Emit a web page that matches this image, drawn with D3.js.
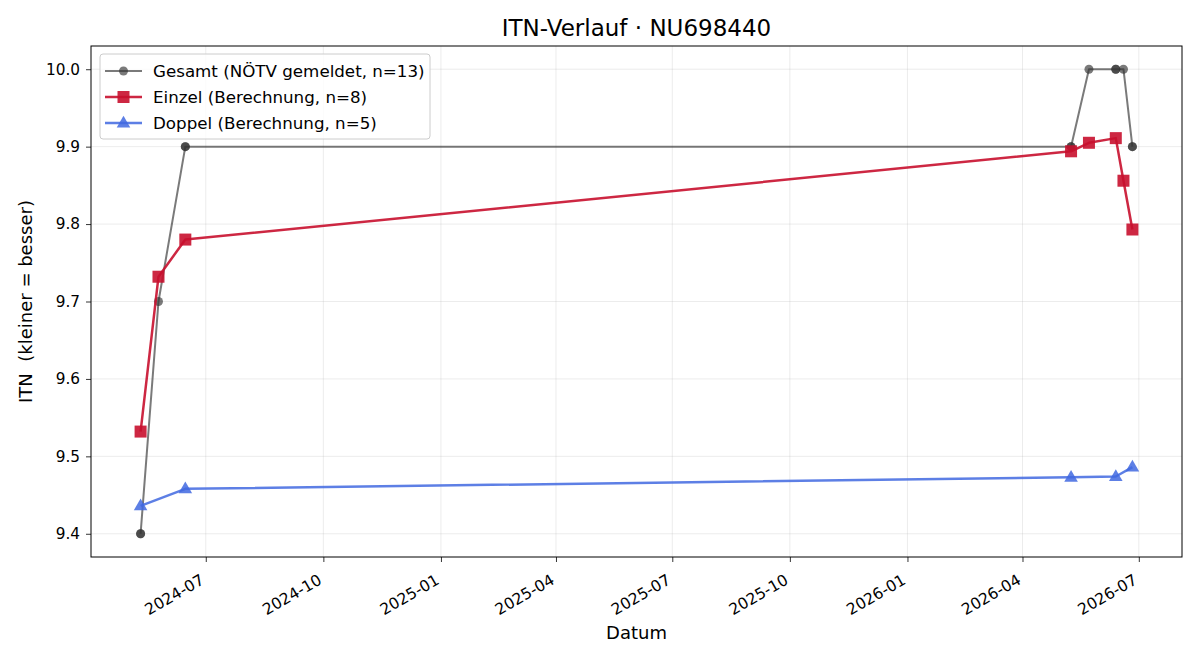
<!DOCTYPE html>
<html>
<head>
<meta charset="utf-8">
<script src="https://cdn.jsdelivr.net/npm/d3@7"></script>
<style>
  body { margin: 0; background: #fff; }
  svg text { font-family: "DejaVu Sans", sans-serif; fill: #000; }
</style>
</head>
<body>
<svg width="1200" height="660"></svg>
<script>
// data
var gesamtDates = ["2024-05-11","2024-05-11","2024-05-25","2024-06-15","2024-06-15","2026-05-09","2026-05-09","2026-05-23","2026-06-13","2026-06-13","2026-06-19","2026-06-26","2026-06-26"];
var gesamtValues = [9.4, 9.4, 9.7, 9.9, 9.9, 9.9, 9.9, 10.0, 10.0, 10.0, 10.0, 9.9, 9.9];

var einzelDates = ["2024-05-11","2024-05-25","2024-06-15","2026-05-09","2026-05-23","2026-06-13","2026-06-19","2026-06-26"];
var einzelValues = [9.532, 9.732, 9.780, 9.894, 9.905, 9.911, 9.856, 9.793];

var doppelDates = ["2024-05-11","2024-06-15","2026-05-09","2026-06-13","2026-06-26"];
var doppelValues = [9.436, 9.458, 9.473, 9.474, 9.486];

var yTicks = [9.4, 9.5, 9.6, 9.7, 9.8, 9.9, 10.0];
var xTicks = ["2024-07-01","2024-10-01","2025-01-01","2025-04-01","2025-07-01","2025-10-01","2026-01-01","2026-04-01","2026-07-01"];

var parse = d3.utcParse("%Y-%m-%d");

var svg = d3.select("svg"),
    width = +svg.attr("width"),
    height = +svg.attr("height");

var margin = {left: 91, right: 18, top: 46, bottom: 103};
var pw = width - margin.left - margin.right,
    ph = height - margin.top - margin.bottom;

function zip(dates, vals) {
  return dates.map(function(d, i) { return {date: parse(d), value: vals[i]}; });
}

var series = [
  {name: "Gesamt (NÖTV gemeldet, n=13)", data: zip(gesamtDates, gesamtValues), color: "#333333", alpha: 0.65, width: 2, marker: "circle"},
  {name: "Einzel (Berechnung, n=8)", data: zip(einzelDates, einzelValues), color: "#c8102e", alpha: 0.9, width: 2.5, marker: "square"},
  {name: "Doppel (Berechnung, n=5)", data: zip(doppelDates, doppelValues), color: "#4169e1", alpha: 0.85, width: 2.5, marker: "triangle"}
];

// matplotlib-ish 5% margins
var allDates = [].concat(series[0].data, series[1].data, series[2].data).map(function(d) { return +d.date; });
var allVals = [].concat(gesamtValues, einzelValues, doppelValues);
var dMin = d3.min(allDates), dMax = d3.max(allDates), dPad = (dMax - dMin) * 0.05;
var vMin = d3.min(allVals), vMax = d3.max(allVals), vPad = (vMax - vMin) * 0.05;

var x = d3.scaleUtc()
    .domain([new Date(dMin - dPad), new Date(dMax + dPad)])
    .range([0, pw]);
var y = d3.scaleLinear()
    .domain([vMin - vPad, vMax + vPad])
    .range([ph, 0]);

const g = svg.append("g").attr("transform", "translate(" + margin.left + "," + margin.top + ")");

// grid
g.append("g").selectAll("line")
  .data(xTicks.map(parse))
  .enter().append("line")
    .attr("x1", d => x(d)).attr("x2", d => x(d))
    .attr("y1", 0).attr("y2", ph)
    .attr("stroke", "#b0b0b0").attr("stroke-opacity", 0.3).attr("stroke-width", 0.8);
g.append("g").selectAll("line")
  .data(yTicks)
  .enter().append("line")
    .attr("x1", 0).attr("x2", pw)
    .attr("y1", d => y(d)).attr("y2", d => y(d))
    .attr("stroke", "#b0b0b0").attr("stroke-opacity", 0.3).attr("stroke-width", 0.8);

// axes
var xAxis = g.append("g")
  .attr("transform", "translate(0," + ph + ")")
  .call(d3.axisBottom(x).tickValues(xTicks.map(parse)).tickFormat(d3.utcFormat("%Y-%m")).tickSizeOuter(0).tickSize(5));
xAxis.selectAll("text")
  .style("font-size", "15.6px")
  .attr("text-anchor", "end")
  .attr("x", 0).attr("y", 0)
  .attr("dx", 0).attr("dy", 0)
  .attr("transform", "translate(-1,26) rotate(-30)");

var yAxis = g.append("g")
  .call(d3.axisLeft(y).tickValues(yTicks).tickFormat(d3.format(".1f")).tickSizeOuter(0).tickSize(5));
yAxis.selectAll("text").style("font-size", "15.3px").attr("x", -11);

g.selectAll(".domain").remove();
g.selectAll(".tick line").attr("stroke", "#000").attr("stroke-width", 0.8);

// frame
g.append("rect")
  .attr("width", pw).attr("height", ph)
  .attr("fill", "none").attr("stroke", "#000").attr("stroke-width", 1);

// lines + markers
var line = d3.line().x(d => x(d.date)).y(d => y(d.value));

function drawMarker(sel, type, color, alpha, cx, cy) {
  if (type === "circle") {
    sel.append("circle").attr("cx", cx).attr("cy", cy).attr("r", 4.5)
      .attr("fill", color).attr("fill-opacity", alpha);
  } else if (type === "square") {
    sel.append("rect").attr("x", cx - 6).attr("y", cy - 6).attr("width", 12).attr("height", 12)
      .attr("fill", color).attr("fill-opacity", alpha);
  } else {
    sel.append("path")
      .attr("d", d3.symbol(d3.symbolTriangle, 80)())
      .attr("transform", "translate(" + cx + "," + (cy + 0.5) + ")")
      .attr("fill", color).attr("fill-opacity", alpha);
  }
}

series.forEach(function(s) {
  g.append("path")
    .datum(s.data)
    .attr("d", line)
    .attr("fill", "none")
    .attr("stroke", s.color)
    .attr("stroke-opacity", s.alpha)
    .attr("stroke-width", s.width)
    .attr("stroke-linejoin", "round");
  var mg = g.append("g");
  s.data.forEach(function(d) {
    drawMarker(mg, s.marker, s.color, s.alpha, x(d.date), y(d.value));
  });
});

// legend
var lg = svg.append("g").attr("transform", "translate(100,54)");
lg.append("rect")
  .attr("width", 330).attr("height", 85).attr("rx", 3)
  .attr("fill", "#fff").attr("fill-opacity", 0.8)
  .attr("stroke", "#cccccc");
series.forEach(function(s, i) {
  var yy = 17 + i * 26;
  lg.append("line")
    .attr("x1", 5).attr("x2", 42).attr("y1", yy).attr("y2", yy)
    .attr("stroke", s.color).attr("stroke-opacity", s.alpha).attr("stroke-width", s.width);
  drawMarker(lg, s.marker, s.color, s.alpha, 23.5, yy);
  lg.append("text")
    .attr("x", 53).attr("y", yy + 6)
    .style("font-size", "16.7px")
    .text(s.name);
});

// title + labels
svg.append("text")
  .attr("x", margin.left + pw / 2).attr("y", 36)
  .attr("text-anchor", "middle")
  .style("font-size", "23px")
  .text("ITN-Verlauf · NU698440");

svg.append("text")
  .attr("x", margin.left + pw / 2).attr("y", 639)
  .attr("text-anchor", "middle")
  .style("font-size", "18px")
  .text("Datum");

svg.append("text")
  .attr("transform", "translate(32," + (margin.top + ph / 2) + ") rotate(-90)")
  .attr("text-anchor", "middle")
  .style("font-size", "18px")
  .style("white-space", "pre")
  .attr("xml:space", "preserve")
  .text("ITN  (kleiner = besser)");
</script>
</body>
</html>
